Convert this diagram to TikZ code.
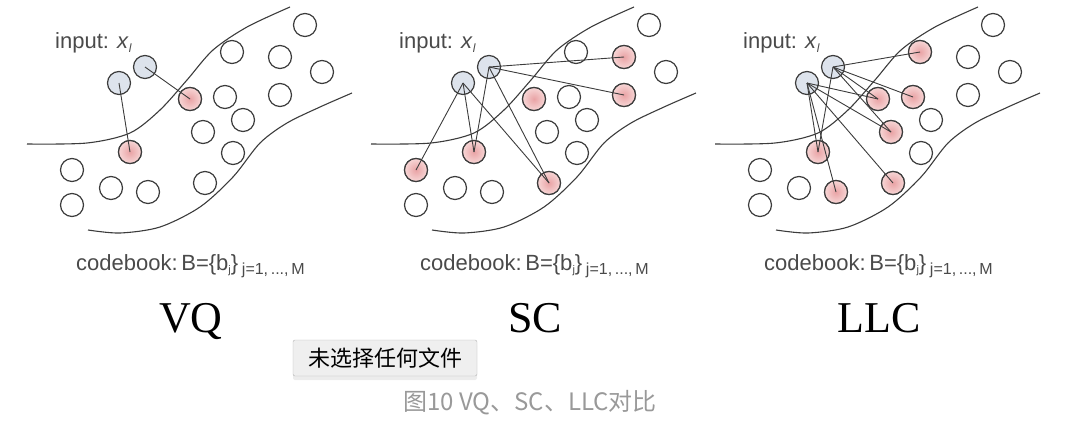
\documentclass[tikz,border=0pt]{standalone}
\usepackage{fontspec}
\setmainfont{Liberation Serif}
\newfontfamily\arialfont{Liberation Sans}
\newfontfamily\cjkfont{Noto Sans CJK SC}
\usetikzlibrary{shadows}

\definecolor{inkgray}{HTML}{3C3C3C}
\definecolor{labelgray}{HTML}{4A4A4A}
\definecolor{pinkin}{HTML}{E9A3A5}
\definecolor{pinkout}{HTML}{F7D6D6}
\definecolor{bluefill}{HTML}{DDE3EC}
\definecolor{btnfill}{HTML}{EFEFEF}
\definecolor{btnedge}{HTML}{B4B4B4}
\definecolor{capgray}{HTML}{999999}

% codebook layout of one panel: index/x/y
\def\codebookpts{1/305/25, 2/232/52, 3/280/57, 4/322/72, 5/190/99, 6/225/97,
  7/280/95, 8/243/120, 9/203/132, 10/233/153, 11/130/152, 12/72/170,
  13/111/188, 14/148/192, 15/205/183, 16/72/205}

\begin{document}
\begin{tikzpicture}[x=1pt, y=-1pt,
    codeword/.style={circle, draw=inkgray, line width=1.2pt, fill=white,
      minimum size=23pt, inner sep=0pt},
    activeword/.style={codeword, inner color=pinkin, outer color=pinkout},
    inputpt/.style={codeword, fill=bluefill},
    link/.style={draw=inkgray, line width=0.9pt},
    manifold/.style={draw=inkgray, line width=1.1pt},
    smalltext/.style={font=\arialfont\fontsize{22}{22}\selectfont, text=labelgray, inner sep=0pt},
    title/.style={font=\fontsize{44}{44}\selectfont, inner sep=0pt, anchor=base}]
  \useasboundingbox (0,0) rectangle (1092,426);

  \foreach \p/\dx/\reds/\name in {v/0/{5,11}/VQ, s/344/{3,5,7,11,12,15}/SC,
                                  l/688/{2,5,6,9,11,14,15}/LLC} {
    \begin{scope}[shift={(\dx,0)}]
      \draw[manifold] plot[smooth] coordinates {(27,144) (87,143) (130,133)
        (160,110) (187,80) (213,50) (247,27) (290,7)};
      \draw[manifold] plot[smooth] coordinates {(88,230) (120,233) (160,227)
        (200,207) (233,177) (260,143) (287,123) (320,107) (352,93)};
      \foreach \i/\cx/\cy in \codebookpts
        \node[codeword] (\p\i) at (\cx,\cy) {};
      \foreach \i/\cx/\cy in \codebookpts {
        \foreach \r in \reds {
          \ifnum\r=\i \node[activeword] (\p\i) at (\cx,\cy) {}; \fi
        }
      }
      \node[inputpt] (\p a) at (119,83) {};
      \node[inputpt] (\p b) at (145,67) {};
      \node[smalltext, anchor=base west] (\p in) at (55,48)
        {input: \textit{x}\raisebox{-4pt}{\fontsize{12}{12}\selectfont\textit{l}}};
      \node[smalltext, anchor=base west] (\p cb) at (76,270)
        {codebook:\,B=\{b\raisebox{-3pt}{\fontsize{11}{11}\selectfont j}\}\,%
         \raisebox{-4pt}{\fontsize{16}{16}\selectfont j=1,\,...,\,M}};
      \node[title] (\p t) at (191,332) {\name};
    \end{scope}
  }

  % VQ: nearest codeword only
  \draw[link] (va.center) -- (v11.center);
  \draw[link] (vb.center) -- (v5.center);
  % SC
  \foreach \j in {12,11,15} \draw[link] (sa.center) -- (s\j.center);
  \foreach \j in {11,15,3,7} \draw[link] (sb.center) -- (s\j.center);
  % LLC
  \foreach \j in {5,9,11,14,15} \draw[link] (la.center) -- (l\j.center);
  \foreach \j in {2,6,5,9,11} \draw[link] (lb.center) -- (l\j.center);

  \node[draw=btnedge, fill=btnfill, rounded corners=2pt, minimum width=184pt,
    minimum height=36pt, inner sep=0pt,
    drop shadow={opacity=0.15, shadow xshift=0pt, shadow yshift=-4pt},
    font=\cjkfont\fontsize{22}{22}\selectfont] (btn) at (385,358) {未选择任何文件};
  \node[font=\cjkfont\fontsize{24}{24}\selectfont, text=capgray, inner sep=0pt]
    (cap) at (530,403) {图10 VQ、SC、LLC对比};
\end{tikzpicture}
\end{document}
